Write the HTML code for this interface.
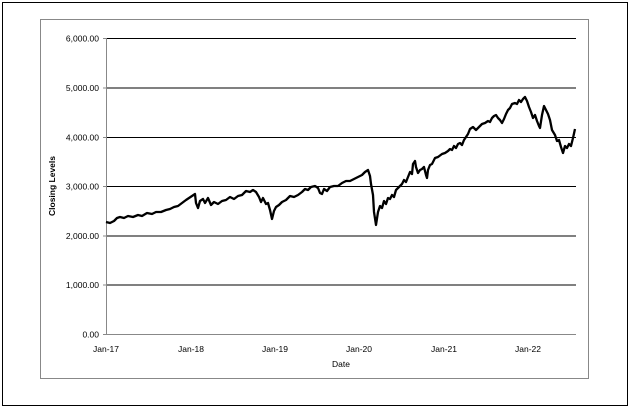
<!DOCTYPE html>
<html><head><style>
html,body{margin:0;padding:0;background:#fff;}
svg text{font-family:"Liberation Sans",Tahoma,sans-serif;font-size:8.5px;fill:#000;}
</style></head><body>
<svg width="631" height="410" xmlns="http://www.w3.org/2000/svg">
<rect x="2.5" y="2.5" width="625" height="403" fill="#fff" stroke="#000" stroke-width="1"/>
<rect x="40.5" y="19.5" width="548" height="359" fill="#fff" stroke="#888" stroke-width="1"/>
<g stroke="#000" stroke-width="1">
<line x1="106" y1="38.5" x2="576" y2="38.5"/>
<line x1="106" y1="88" x2="576" y2="88"/>
<line x1="106" y1="137.5" x2="576" y2="137.5"/>
<line x1="106" y1="186.5" x2="576" y2="186.5"/>
<line x1="106" y1="236" x2="576" y2="236"/>
<line x1="106" y1="285" x2="576" y2="285"/>
</g>
<g stroke="#888" stroke-width="1">
<line x1="106.5" y1="38" x2="106.5" y2="334"/>
<line x1="106" y1="334.5" x2="576" y2="334.5"/>
<line x1="103" y1="38.5" x2="106" y2="38.5"/>
<line x1="103" y1="88" x2="106" y2="88"/>
<line x1="103" y1="137.5" x2="106" y2="137.5"/>
<line x1="103" y1="186.5" x2="106" y2="186.5"/>
<line x1="103" y1="236" x2="106" y2="236"/>
<line x1="103" y1="285" x2="106" y2="285"/>
<line x1="103" y1="334.5" x2="106" y2="334.5"/>
</g>
<g text-anchor="end">
<text x="99" y="41.5">6,000.00</text>
<text x="99" y="91">5,000.00</text>
<text x="99" y="140.5">4,000.00</text>
<text x="99" y="189.5">3,000.00</text>
<text x="99" y="239">2,000.00</text>
<text x="99" y="288">1,000.00</text>
<text x="99" y="337.5">0.00</text>
</g>
<g text-anchor="middle">
<text x="106" y="352">Jan-17</text>
<text x="191" y="352">Jan-18</text>
<text x="275" y="352">Jan-19</text>
<text x="359" y="352">Jan-20</text>
<text x="444" y="352">Jan-21</text>
<text x="528" y="352">Jan-22</text>
<text x="341" y="367">Date</text>
</g>
<text x="0" y="0" transform="translate(55,186) rotate(-90)" text-anchor="middle" font-weight="bold">Closing Levels</text>
<polyline fill="none" stroke="#000" stroke-width="2.3" stroke-linejoin="round" points="
106,222 110,223 114,221 117,218 120,217 124,218 128,216 133,217 138,215 142,216 147,213 152,214 156,212 161,212 166,210 170,209 174,207 178,206 182,203 186,200 189,198 192,196 195,194 196,203 198,208 200,201 203,199 205,203 208,198 211,205 214,202 218,204 222,201 226,200 230,197 234,199 238,196 242,195 246,191 250,192 253,190 256,192 259,197 261,202 263,198 266,204 268,203 270,210 272,219 274,211 276,207 279,205 282,202 286,200 290,196 294,197 298,195 302,192 305,189 308,190 311,187 315,186 318,188 320,193 322,194 324,189 327,191 330,187 334,186 338,186 342,183 346,181 350,181 354,179 358,177 362,175 365,172 368,170 370,176 371,184 373,195 374,212 376,225 378,212 380,206 382,208 384,201 386,204 388,198 390,199 392,195 394,197 396,190 398,188 400,186 402,184 404,180 406,182 408,177 410,172 412,174 413,164 415,161 416,167 418,173 420,170 422,169 424,167 426,175 427,178 428,170 430,165 432,164 435,158 438,157 442,154 445,153 448,151 450,149 452,150 454,146 456,148 458,144 460,143 462,145 464,140 466,137 468,134 470,129 473,127 476,130 479,127 482,124 485,123 488,121 490,122 492,118 494,116 496,115 498,118 500,120 502,123 504,119 506,114 508,110 510,108 512,104 515,103 517,104 519,100 521,102 523,99 525,97 527,101 529,107 531,112 533,118 535,115 537,121 539,126 540,128 542,115 544,106 546,110 548,114 550,120 552,130 555,135 557,141 559,140 561,147 563,153 565,146 567,148 569,144 571,146 573,138 575,129"/>
</svg>
</body></html>
